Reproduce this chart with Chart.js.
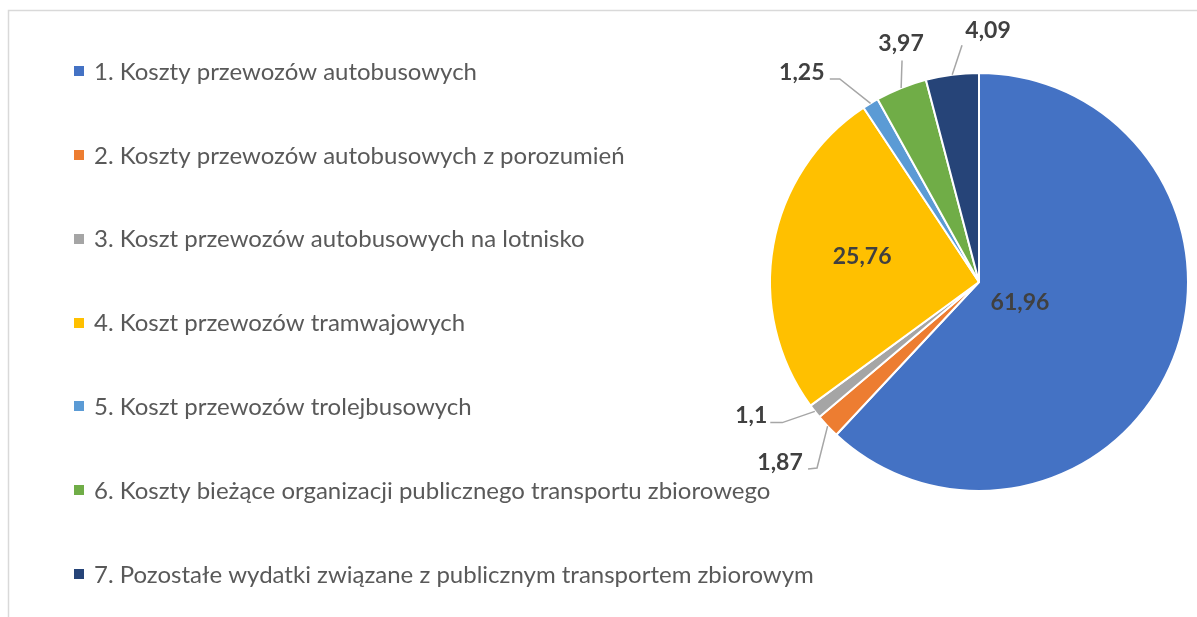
<!DOCTYPE html>
<html>
<head>
<meta charset="utf-8">
<style>
  html, body { margin: 0; padding: 0; background: #ffffff; }
  #wrap { width: 1197px; height: 617px; position: relative; overflow: hidden; }
  canvas { display: block; }
</style>
<script src="https://cdn.jsdelivr.net/npm/chart.js@4.4.1/dist/chart.umd.min.js"></script>
</head>
<body>
<div id="wrap"><canvas id="chart" width="1197" height="617"></canvas></div>
<script>
// Struktura wydatków na publiczny transport zbiorowy (%)
const categories = [
  '1. Koszty przewozów autobusowych',
  '2. Koszty przewozów autobusowych z porozumień',
  '3. Koszt przewozów autobusowych na lotnisko',
  '4. Koszt przewozów tramwajowych',
  '5. Koszt przewozów trolejbusowych',
  '6. Koszty bieżące organizacji publicznego transportu zbiorowego',
  '7. Pozostałe wydatki związane z publicznym transportem zbiorowym'
];
const shares = [61.96, 1.87, 1.1, 25.76, 1.25, 3.97, 4.09];
const sliceColors = ['#4472C4', '#ED7D31', '#A5A5A5', '#FFC000', '#5B9BD5', '#70AD47', '#264478'];

// Where each value label goes. Inside labels: fraction of the radius along the
// slice's middle (plus a small turn in degrees). Outside labels: clock angle and
// distance of the text centre, plus leader-line bends relative to the text centre.
const labelPlacement = [
  { inside: true, frac: 0.22, turn: 5.5 },
  { inside: false, clock: 227.7, dist: 269, bends: [[28, 6], [37, 5]] },
  { inside: false, clock: 239.6, dist: 264, bends: [[19, 7], [31, 7]] },
  { inside: true, frac: 0.572, turn: 2 },
  { inside: false, clock: 319.7, dist: 274, bends: [[28, 6], [38, 6]] },
  { inside: false, clock: 341.9, dist: 251, bends: [[1, 17]] },
  { inside: false, clock: 2.05, dist: 252, bends: [[-26, 15]] }
];

const FONT = 'Lato, "Open Sans", sans-serif';
const fmt = v => String(v).replace('.', ',');

// Thin frame around the chart area
const framePlugin = {
  id: 'frame',
  beforeDraw(chart) {
    const ctx = chart.ctx;
    ctx.save();
    ctx.strokeStyle = '#D9D9D9';
    ctx.lineWidth = 1.5;
    ctx.beginPath();
    ctx.moveTo(8.5, chart.height);
    ctx.lineTo(8.5, 10.5);
    ctx.lineTo(chart.width, 10.5);
    ctx.stroke();
    ctx.restore();
  }
};

// Vertical legend on the left side
const sideLegendPlugin = {
  id: 'sideLegend',
  afterDraw(chart) {
    const ctx = chart.ctx;
    const ds = chart.data.datasets[0];
    const labels = chart.data.labels;
    const top = 71, bottom = 574;
    const step = (bottom - top) / (labels.length - 1);
    ctx.save();
    ctx.font = '24px ' + FONT;
    ctx.textBaseline = 'middle';
    ctx.textAlign = 'left';
    labels.forEach((lab, i) => {
      const y = top + i * step;
      ctx.fillStyle = ds.backgroundColor[i];
      ctx.fillRect(74, Math.round(y) - 5, 10, 10);
      ctx.fillStyle = '#595959';
      ctx.fillText(lab, 94, y + 1);
    });
    ctx.restore();
  }
};

// Value labels with leader lines
const valueLabelPlugin = {
  id: 'valueLabels',
  afterDatasetsDraw(chart) {
    const ctx = chart.ctx;
    const meta = chart.getDatasetMeta(0);
    const values = chart.data.datasets[0].data;
    ctx.save();
    ctx.font = 'bold 23px ' + FONT;
    ctx.textAlign = 'center';
    ctx.textBaseline = 'middle';
    meta.data.forEach((arc, i) => {
      const p = arc.getProps(['x', 'y', 'startAngle', 'endAngle', 'outerRadius'], true);
      const mid = (p.startAngle + p.endAngle) / 2;
      const cfg = labelPlacement[i];
      const text = fmt(values[i]);
      if (cfg.inside) {
        const a = mid + cfg.turn * Math.PI / 180;
        const r = p.outerRadius * cfg.frac;
        ctx.fillStyle = '#404040';
        ctx.fillText(text, p.x + r * Math.cos(a), p.y + r * Math.sin(a));
      } else {
        const a = (cfg.clock - 90) * Math.PI / 180;
        const tx = p.x + cfg.dist * Math.cos(a);
        const ty = p.y + cfg.dist * Math.sin(a);
        ctx.strokeStyle = '#A6A6A6';
        ctx.lineWidth = 1.5;
        ctx.beginPath();
        cfg.bends.forEach(([dx, dy], k) => {
          if (k === 0) ctx.moveTo(tx + dx, ty + dy); else ctx.lineTo(tx + dx, ty + dy);
        });
        ctx.lineTo(p.x + p.outerRadius * Math.cos(mid), p.y + p.outerRadius * Math.sin(mid));
        ctx.stroke();
        ctx.fillStyle = '#404040';
        ctx.fillText(text, tx, ty);
      }
    });
    ctx.restore();
  }
};

new Chart(document.getElementById('chart'), {
  type: 'pie',
  data: {
    labels: categories,
    datasets: [{
      data: shares,
      backgroundColor: sliceColors,
      borderColor: '#FFFFFF',
      borderWidth: 2
    }]
  },
  options: {
    responsive: false,
    devicePixelRatio: 1,
    animation: false,
    layout: { padding: { left: 769, right: 8, top: 72, bottom: 125 } },
    plugins: {
      legend: { display: false },
      tooltip: { enabled: false },
      title: { display: false }
    }
  },
  plugins: [framePlugin, sideLegendPlugin, valueLabelPlugin]
});
</script>
</body>
</html>
